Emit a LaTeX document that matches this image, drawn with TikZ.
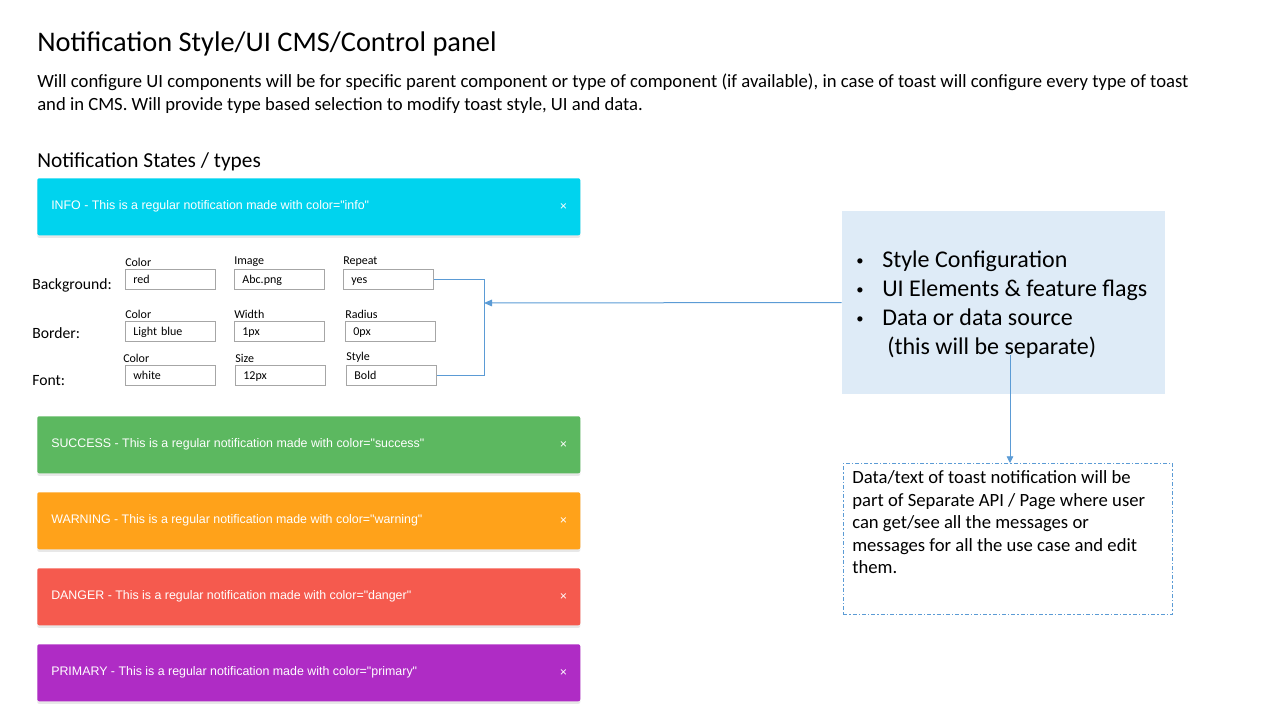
\documentclass[tikz,border=0pt]{standalone}
\usepackage{fontspec}
\setmainfont{Carlito}
\newfontfamily\toastfont{Liberation Sans}
\usepackage{xcolor}
\usetikzlibrary{arrows.meta,shadows}
\definecolor{toastinfo}{HTML}{00D3EE}
\definecolor{toastsuccess}{HTML}{5CB860}
\definecolor{toastwarning}{HTML}{FFA21A}
\definecolor{toastdanger}{HTML}{F55A4E}
\definecolor{toastprimary}{HTML}{AF2CC5}
\definecolor{linkblue}{HTML}{5B9BD5}
\definecolor{cfgfill}{HTML}{DEEBF7}
\definecolor{fieldgray}{HTML}{A6A6A6}
\newcommand\cfgbullet{\makebox[19.5pt][l]{\raisebox{0.25ex}{\fontsize{11}{11}\selectfont\textbullet}}}
\tikzset{
  toast/.style={rectangle,rounded corners=1.5pt,minimum width=407.25pt,
    minimum height=42.75pt,inner sep=0pt,draw=none,
    drop shadow={opacity=0.18,shadow xshift=0pt,shadow yshift=-2pt}},
  toast text/.style={text=white,font=\toastfont\fontsize{9.3}{11}\selectfont,
    inner sep=0pt},
  field/.style={rectangle,draw=fieldgray,line width=0.6pt,minimum height=15pt,
    text width=55.5pt,text height=1.6ex,text depth=0.3ex,inner xsep=6pt,
    inner ysep=0pt,align=left,font=\fontsize{9}{10}\selectfont},
  field label/.style={anchor=south west,inner xsep=0pt,inner ysep=1.5pt,
    font=\fontsize{9}{10}\selectfont},
  row label/.style={anchor=west,inner sep=0pt,font=\fontsize{11.75}{13}\selectfont},
  link/.style={draw=linkblue,line width=0.75pt},
  note/.style={draw=linkblue,line width=0.6pt,
    dash pattern=on 3pt off 1.5pt on 1pt off 1.5pt}
}
\begin{document}
\begin{tikzpicture}[x=0.75pt,y=-0.75pt]
  \useasboundingbox (0,0) rectangle (1280,720);
  % heading
  \node[anchor=west,inner sep=0pt,font=\fontsize{21.3}{25}\selectfont] (title) at (37,44)
    {Notification Style/UI CMS/Control panel};
  \node[anchor=north west,inner sep=0pt,align=left,font=\fontsize{14}{17.25}\selectfont] (intro) at (37,74)
    {Will configure UI components will be for specific parent component or type of component (if available), in case of toast will configure every type of toast\\
     and in CMS. Will provide type based selection to modify toast style, UI and data.};
  \node[anchor=west,inner sep=0pt,font=\fontsize{16}{19}\selectfont] (states) at (37,162)
    {Notification States / types};

  % toasts
  \foreach \nm/\col/\yy/\lbl in {info/toastinfo/178/INFO,success/toastsuccess/416/SUCCESS,
      warning/toastwarning/492/WARNING,danger/toastdanger/568/DANGER,
      primary/toastprimary/644/PRIMARY}{
    \node[toast,fill=\col,anchor=north west] (t\nm) at (37,\yy) {};
    \node[toast text,anchor=west] at ([xshift=10.5pt]t\nm.west)
      {\lbl{} - This is a regular notification made with color="\nm"};
    \node[toast text] at ([xshift=-12.75pt]t\nm.east) {×};
  }

  % style fields
  \node[row label] (lbg) at (32,285) {Background:};
  \node[row label] (lbd) at (32,333) {Border:};
  \node[row label] (lft) at (32,381) {Font:};

  \node[field,anchor=west] (bgColor)  at (125,279) {red};
  \node[field,anchor=west] (bgImage)  at (234,279) {Abc.png};
  \node[field,anchor=west] (bgRepeat) at (343,279) {yes};
  \node[field,anchor=west] (bdColor)  at (125,331) {Light blue};
  \node[field,anchor=west] (bdWidth)  at (234,331) {1px};
  \node[field,anchor=west] (bdRadius) at (345,331) {0px};
  \node[field,anchor=west] (ftColor)  at (125,375) {white};
  \node[field,anchor=west] (ftSize)   at (235,375) {12px};
  \node[field,anchor=west] (ftStyle)  at (346,375) {Bold};

  \node[field label] at (bgColor.north west)  {Color};
  \node[field label] at (bgImage.north west)  {Image};
  \node[field label] at (bgRepeat.north west) {Repeat};
  \node[field label] at (bdColor.north west)  {Color};
  \node[field label] at (bdWidth.north west)  {Width};
  \node[field label] at (bdRadius.north west) {Radius};
  \node[field label] at ([xshift=-1.5pt]ftColor.north west) {Color};
  \node[field label] at (ftSize.north west)   {Size};
  \node[field label] at (ftStyle.north west)  {Style};

  % bracket and arrow from configuration box
  \coordinate (brk) at (484,303);
  \draw[link] (bgRepeat.east) -- (bgRepeat.east -| brk) -- (ftStyle.east -| brk) -- (ftStyle.east);
  \node[rectangle,fill=cfgfill,minimum width=242.25pt,minimum height=137.25pt] (cfg) at (1003.5,302.5) {};
  \node[anchor=west,inner sep=0pt,align=left,font=\fontsize{18}{21.75}\selectfont] (cfgtext) at (856,305)
    {\cfgbullet Style Configuration\\
     \cfgbullet UI Elements \& feature flags\\
     \cfgbullet Data or data source\\
     \hspace*{23.25pt}(this will be separate)};
  \draw[link,-{Triangle[length=6pt,width=5pt]}] (cfg.west) -- (brk);

  % data note
  \node[note,anchor=north west,minimum width=246.75pt,minimum height=113.25pt] (dnote) at (843,463) {};
  \node[anchor=north west,inner sep=0pt,align=left,font=\fontsize{14}{16.9}\selectfont] (dtext)
    at ([xshift=6.75pt,yshift=-5.5pt]dnote.north west)
    {Data/text of toast notification will be\\
     part of Separate API / Page where user\\
     can get/see all the messages or\\
     messages for all the use case and edit\\
     them.};
  \coordinate (src) at (1010,355);
  \draw[link,line width=0.6pt,-{Triangle[length=5pt,width=5pt]}] (src) -- (dnote.north -| src);
\end{tikzpicture}
\end{document}
